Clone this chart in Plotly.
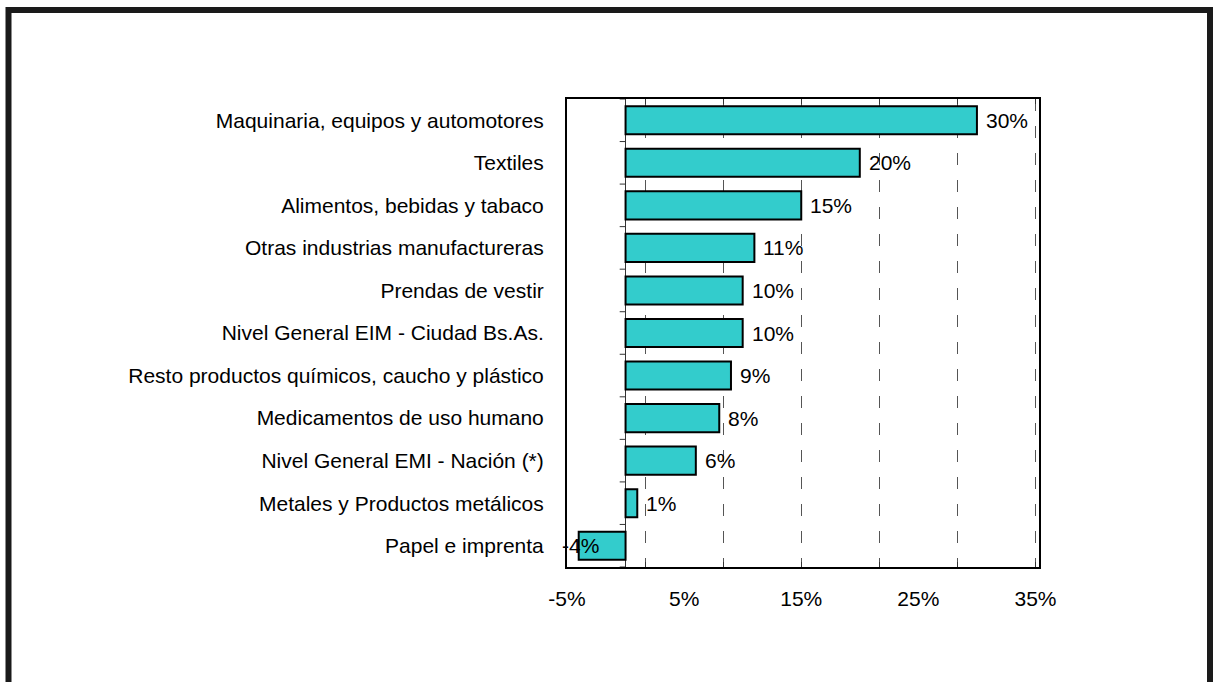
import plotly.graph_objects as go

categories = [
    "Maquinaria, equipos y automotores",
    "Textiles",
    "Alimentos, bebidas y tabaco",
    "Otras industrias manufactureras",
    "Prendas de vestir",
    "Nivel General EIM - Ciudad Bs.As.",
    "Resto productos químicos, caucho y plástico",
    "Medicamentos de uso humano",
    "Nivel General EMI - Nación (*)",
    "Metales y Productos metálicos",
    "Papel e imprenta",
]
values = [30, 20, 15, 11, 10, 10, 9, 8, 6, 1, -4]
x_ticklabels = ["-5%", "5%", "15%", "25%", "35%"]
x_tickvals = [-5, 5, 15, 25, 35]
grid_vals = [-5 + k * 20 / 3 for k in range(7)]
x_range = [-5, 35.3]

FONT = "Liberation Sans, Arial, sans-serif"

fig = go.Figure()
fig.add_trace(go.Bar(
    x=values, y=categories, orientation="h",
    marker=dict(color="#33CCCC", line=dict(color="black", width=2)),
    width=0.66, hoverinfo="skip",
))
# helper trace so the grid axis is drawn
fig.add_trace(go.Scatter(x=values, y=categories, xaxis="x2", mode="none",
                         hoverinfo="skip", showlegend=False))

for c, v in zip(categories, values):
    fig.add_annotation(
        x=v, y=c, text=f"{v}%", showarrow=False,
        xanchor="left", yanchor="middle",
        xshift=7 if v >= 0 else -19,
        font=dict(family=FONT, size=21, color="black"),
    )

# category tick marks on the zero line
n = len(categories)
for k in range(n + 1):
    fig.add_shape(type="line", xref="x", yref="y",
                  x0=-0.5, x1=0, y0=k - 0.5, y1=k - 0.5,
                  line=dict(color="#333", width=1))

# outer frame
fig.add_shape(type="rect", xref="paper", yref="paper",
              x0=(8.5 - 567) / 472, x1=(1210 - 567) / 472,
              y0=(567 - 695) / 468, y1=(567 - 10) / 468,
              line=dict(color="#1a1a1a", width=6), layer="above")

fig.update_layout(
    width=1213, height=682,
    margin=dict(l=567, r=174, t=99, b=115),
    paper_bgcolor="white", plot_bgcolor="white",
    showlegend=False,
    font=dict(family=FONT, size=21, color="black"),
    xaxis=dict(
        range=x_range, tickvals=x_tickvals, ticktext=x_ticklabels,
        showgrid=False, ticks="", zeroline=True, zerolinecolor="#333",
        zerolinewidth=1, showline=True, linecolor="black", linewidth=2,
        mirror=True, ticklabelstandoff=12,
        tickfont=dict(family=FONT, size=21, color="black"),
    ),
    xaxis2=dict(
        range=x_range, overlaying="x", side="bottom",
        tickvals=grid_vals, showticklabels=False,
        ticks="inside", ticklen=5, tickcolor="#333", tickwidth=1,
        mirror="ticks", showline=False,
        showgrid=True, gridcolor="#555", gridwidth=1, griddash="12px,15px",
        zeroline=False,
    ),
    yaxis=dict(
        categoryorder="array", categoryarray=categories[::-1],
        range=[-0.5, n - 0.5],
        showgrid=False, ticks="", showline=True, linecolor="black",
        linewidth=2, mirror=True, ticklabelstandoff=17,
        tickfont=dict(family=FONT, size=21, color="black"),
    ),
)

fig.write_html(
    "out.html",
    config={"displayModeBar": False},
    post_script="document.body.style.margin='0';document.body.style.overflow='hidden';",
)
